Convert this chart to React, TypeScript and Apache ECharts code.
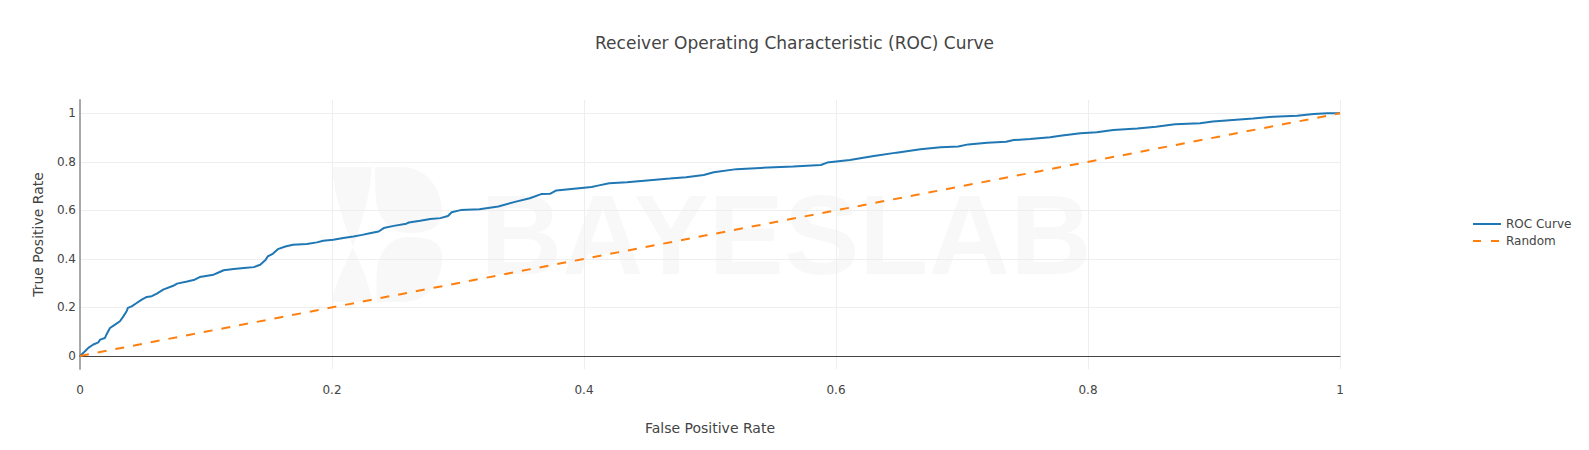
import React, { useEffect, useRef } from "react";
import * as echarts from "echarts";

const chartTitle = "Receiver Operating Characteristic (ROC) Curve";
const xAxisTitle = "False Positive Rate";
const yAxisTitle = "True Positive Rate";
const seriesNames = ["ROC Curve", "Random"];
const tickValues = [0, 0.2, 0.4, 0.6, 0.8, 1];

const fprValues = [
  0, 0.004, 0.0066, 0.0106, 0.0146, 0.016, 0.0198, 0.021, 0.0238, 0.0278, 0.0317, 0.0344, 0.037, 0.038,
  0.041, 0.045, 0.049, 0.053, 0.057, 0.061, 0.066, 0.074, 0.077, 0.085, 0.091, 0.095, 0.106, 0.11, 0.114,
  0.122, 0.13, 0.138, 0.143, 0.147, 0.149, 0.153, 0.157, 0.163, 0.169, 0.18, 0.188, 0.193, 0.201, 0.209,
  0.217, 0.224, 0.23, 0.237, 0.241, 0.249, 0.259, 0.261, 0.27, 0.278, 0.286, 0.292, 0.295, 0.302, 0.317,
  0.332, 0.346, 0.357, 0.366, 0.373, 0.378, 0.392, 0.406, 0.411, 0.42, 0.434, 0.45, 0.468, 0.481, 0.495,
  0.503, 0.521, 0.54, 0.566, 0.588, 0.593, 0.611, 0.63, 0.648, 0.667, 0.683, 0.697, 0.705, 0.72, 0.735,
  0.741, 0.754, 0.77, 0.778, 0.794, 0.807, 0.82, 0.839, 0.854, 0.869, 0.889, 0.899, 0.915, 0.931, 0.947,
  0.966, 0.979, 0.99, 1.0,
];
const tprValues = [
  0, 0.019, 0.033, 0.047, 0.056, 0.067, 0.074, 0.088, 0.115, 0.129, 0.143, 0.163, 0.184, 0.198, 0.204,
  0.218, 0.232, 0.243, 0.246, 0.257, 0.273, 0.289, 0.298, 0.307, 0.314, 0.325, 0.335, 0.344, 0.353, 0.358,
  0.362, 0.366, 0.376, 0.394, 0.41, 0.421, 0.44, 0.451, 0.458, 0.461, 0.468, 0.475, 0.479, 0.486, 0.492,
  0.499, 0.506, 0.513, 0.527, 0.536, 0.545, 0.55, 0.557, 0.564, 0.568, 0.577, 0.592, 0.601, 0.605, 0.616,
  0.636, 0.65, 0.667, 0.668, 0.682, 0.689, 0.696, 0.702, 0.712, 0.716, 0.723, 0.731, 0.737, 0.746, 0.757,
  0.77, 0.775, 0.781, 0.787, 0.797, 0.808, 0.824, 0.838, 0.852, 0.86, 0.863, 0.872, 0.879, 0.883, 0.89,
  0.894, 0.901, 0.908, 0.918, 0.922, 0.931, 0.938, 0.945, 0.955, 0.959, 0.966, 0.973, 0.979, 0.986, 0.99,
  0.997, 1.0, 1.0,
];
const randomX = [0, 1];
const randomY = [0, 1];

const LOGO_PATH =
  "M0,0 L40,0 C38,30 30,55 21,80 C12,55 2,30 0,0 Z " +
  "M21,80 C30,100 38,118 40,135 L0,135 C2,118 12,100 21,80 Z " +
  "M43,0 L70,0 C98,0 112,28 110,48 C108,62 95,66 76,66 C60,66 50,55 45,40 C43,30 43,12 43,0 Z " +
  "M45,135 L72,135 C100,135 112,107 110,87 C108,73 95,70 76,70 C60,70 51,81 46,95 C44,105 44,122 45,135 Z";

let logoRegistered = false;

export default function App() {
  const ref = useRef<HTMLDivElement>(null);

  useEffect(() => {
    if (!ref.current) return;
    if (!logoRegistered) {
      echarts.graphic.registerShape("logo", echarts.graphic.extendPath(LOGO_PATH, {}));
      logoRegistered = true;
    }
    const chart = echarts.init(ref.current, null, { renderer: "svg" });
    const font = "'DejaVu Sans', Verdana, sans-serif";
    const rocData = fprValues.map((x, i) => [x, tprValues[i]]);
    const randomData = randomX.map((x, i) => [x, randomY[i]]);

    chart.setOption({
      animation: false,
      backgroundColor: "#fff",
      textStyle: { fontFamily: font },
      title: {
        text: chartTitle,
        left: "center",
        top: 34,
        padding: 0,
        textStyle: { fontFamily: font, fontSize: 17, fontWeight: "normal", color: "#444" },
      },
      graphic: [
        {
          type: "logo",
          x: 332,
          y: 167,
          z: -10,
          silent: true,
          style: { fill: "rgba(0,0,0,0.028)" },
        },
        {
          type: "text",
          x: 786,
          y: 235,
          z: -10,
          silent: true,
          style: {
            text: "BAYESLAB",
            fill: "rgba(0,0,0,0.028)",
            font: "bold 113px 'Liberation Sans', Arial, sans-serif",
            align: "center",
            verticalAlign: "middle",
          },
        },
      ],
      legend: {
        orient: "vertical",
        left: 1472,
        top: 218,
        padding: 0,
        itemWidth: 28,
        itemHeight: 14,
        itemGap: 5,
        itemStyle: { opacity: 0 },
        textStyle: { fontFamily: font, fontSize: 12, color: "#444" },
        data: [
          { name: seriesNames[0], lineStyle: { color: "#1f77b4", width: 2, type: "solid" } },
          { name: seriesNames[1], lineStyle: { color: "#ff7f0e", width: 2, type: [8, 10] } },
        ],
      },
      grid: { left: 80, right: 249, top: 100, bottom: 81, containLabel: false },
      xAxis: {
        type: "value",
        min: 0,
        max: 1,
        interval: 0.2,
        name: xAxisTitle,
        nameLocation: "middle",
        nameGap: 52,
        nameTextStyle: { fontFamily: font, fontSize: 14, color: "#444" },
        axisLine: { show: true, onZero: true, lineStyle: { color: "#444", width: 1 } },
        axisTick: { show: false },
        axisLabel: { fontFamily: font, fontSize: 12, color: "#444", margin: 15 },
        splitLine: { show: true, lineStyle: { color: "#eee", width: 1 } },
      },
      yAxis: {
        type: "value",
        min: -0.054,
        max: 1.055,
        name: yAxisTitle,
        nameLocation: "middle",
        nameGap: 35,
        nameTextStyle: { fontFamily: font, fontSize: 14, color: "#444" },
        axisLine: { show: true, onZero: false, lineStyle: { color: "#a8a8a8", width: 2 } },
        axisTick: { show: false, customValues: tickValues },
        axisLabel: {
          fontFamily: font,
          fontSize: 12,
          color: "#444",
          margin: 4,
          customValues: tickValues,
        },
        splitLine: { show: true, lineStyle: { color: "#eee", width: 1 } },
      },
      series: [
        {
          name: seriesNames[0],
          type: "line",
          data: rocData,
          symbol: "none",
          showSymbol: false,
          z: 3,
          lineStyle: { color: "#1f77b4", width: 2 },
          itemStyle: { color: "#1f77b4" },
        },
        {
          name: seriesNames[1],
          type: "line",
          data: randomData,
          symbol: "none",
          showSymbol: false,
          z: 4,
          lineStyle: { color: "#ff7f0e", width: 2, type: [9, 9] },
          itemStyle: { color: "#ff7f0e" },
        },
      ],
    });
    return () => chart.dispose();
  }, []);

  return (
    <div
      ref={ref}
      style={{ position: "fixed", left: 0, top: 0, width: 1589, height: 450 }}
    />
  );
}
